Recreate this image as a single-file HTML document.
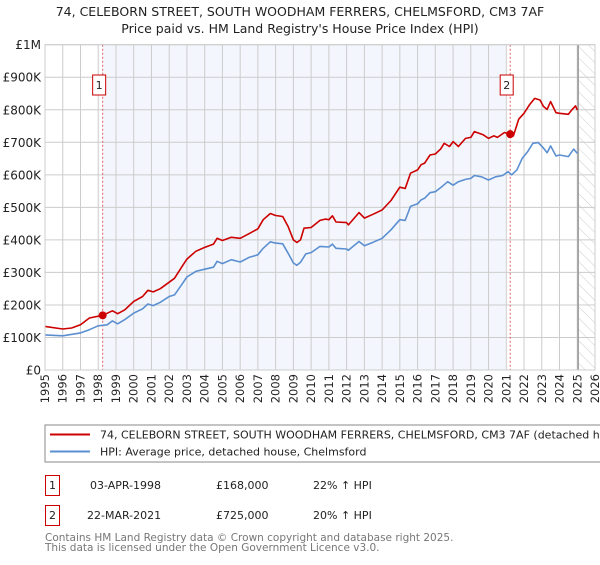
<!DOCTYPE html>
<html><head><meta charset="utf-8"><style>
body{margin:0;background:#fff;}
svg text{font-family:"DejaVu Sans","Liberation Sans",sans-serif;}
</style></head><body>
<svg id="chart" width="600" height="560" viewBox="0 0 600 560" xmlns="http://www.w3.org/2000/svg">
<defs>
<pattern id="hatch" width="8" height="8" patternUnits="userSpaceOnUse" patternTransform="rotate(-45)">
<line x1="0" y1="0" x2="0" y2="8" stroke="#ccc" stroke-width="1"/>
</pattern>
</defs>
<text x="300" y="16" text-anchor="middle" font-size="12.5" fill="#222">74, CELEBORN STREET, SOUTH WOODHAM FERRERS, CHELMSFORD, CM3 7AF</text>
<text x="300" y="33" text-anchor="middle" font-size="12.5" fill="#222">Price paid vs. HM Land Registry's House Price Index (HPI)</text>
<g id="plot"></g>
<g>
<rect x="45" y="425" width="580" height="37" fill="#fff" stroke="#888"/>
<line x1="50" y1="434.5" x2="90" y2="434.5" stroke="#cc0000" stroke-width="2"/>
<text x="100" y="438.5" font-size="11" fill="#222">74, CELEBORN STREET, SOUTH WOODHAM FERRERS, CHELMSFORD, CM3 7AF (detached house)</text>
<line x1="50" y1="451.5" x2="90" y2="451.5" stroke="#5b8fd0" stroke-width="2"/>
<text x="100" y="455.5" font-size="11" fill="#222">HPI: Average price, detached house, Chelmsford</text>
</g>
<g font-size="11" fill="#222">
<rect x="45.5" y="475.5" width="14" height="20" fill="#fff" stroke="#cc0000"/>
<text x="52.5" y="489" text-anchor="middle">1</text>
<text x="90" y="489">03-APR-1998</text>
<text x="216" y="489">£168,000</text>
<text x="313" y="489">22% ↑ HPI</text>
<rect x="45.5" y="505.5" width="14" height="20" fill="#fff" stroke="#cc0000"/>
<text x="52.5" y="519" text-anchor="middle">2</text>
<text x="87" y="519">22-MAR-2021</text>
<text x="216" y="519">£725,000</text>
<text x="313" y="519">20% ↑ HPI</text>
</g>
<text x="45" y="541" font-size="10.5" fill="#777">Contains HM Land Registry data © Crown copyright and database right 2025.</text>
<text x="45" y="551" font-size="10.5" fill="#777">This data is licensed under the Open Government Licence v3.0.</text>
</svg>
<script>
const years=[1995,1996,1997,1998,1999,2000,2001,2002,2003,2004,2005,2006,2007,2008,2009,2010,2011,2012,2013,2014,2015,2016,2017,2018,2019,2020,2021,2022,2023,2024,2025,2026];
const yTicks=[0,100000,200000,300000,400000,500000,600000,700000,800000,900000,1000000];
const yTickLabels=["£0","£100K","£200K","£300K","£400K","£500K","£600K","£700K","£800K","£900K","£1M"];
const propT=[1995,1996,1996.5,1997,1997.5,1998.25,1998.8,1999.1,1999.5,2000,2000.5,2000.8,2001.1,2001.5,2002,2002.3,2002.7,2003,2003.5,2004,2004.5,2004.7,2005,2005.5,2006,2006.5,2007,2007.3,2007.7,2008,2008.4,2008.7,2009,2009.2,2009.4,2009.6,2010,2010.5,2010.8,2011,2011.2,2011.4,2012,2012.1,2012.7,2013,2013.5,2014,2014.5,2015,2015.3,2015.6,2016,2016.2,2016.4,2016.7,2017,2017.3,2017.5,2017.8,2018,2018.3,2018.7,2019,2019.2,2019.7,2020,2020.3,2020.5,2020.9,2021.22,2021.4,2021.7,2022,2022.3,2022.6,2022.9,2023.1,2023.3,2023.5,2023.8,2024,2024.5,2024.7,2024.9,2025];
const propV=[134,126,129,139,160,168,182,173,185,211,226,245,240,250,270,282,316,341,365,377,387,405,398,408,405,419,434,462,481,475,472,441,400,392,400,436,438,460,464,462,474,455,453,446,484,467,479,492,521,562,558,605,615,631,636,661,664,679,697,687,702,687,712,715,733,723,712,720,715,730,725,720,771,789,815,835,830,810,801,825,791,789,786,800,812,799];
const hpiT=[1995,1996,1997,1997.5,1998,1998.5,1998.8,1999.1,1999.5,2000,2000.5,2000.8,2001.1,2001.5,2002,2002.3,2002.7,2003,2003.5,2004,2004.5,2004.7,2005,2005.5,2006,2006.5,2007,2007.3,2007.7,2008,2008.4,2008.7,2009,2009.2,2009.4,2009.7,2010,2010.5,2011,2011.2,2011.4,2012,2012.1,2012.7,2013,2013.5,2014,2014.5,2015,2015.3,2015.6,2016,2016.2,2016.4,2016.7,2017,2017.4,2017.7,2018,2018.3,2018.7,2019,2019.2,2019.6,2020,2020.4,2020.8,2021.1,2021.3,2021.6,2021.9,2022.2,2022.5,2022.8,2023.1,2023.3,2023.5,2023.8,2024,2024.5,2024.8,2025];
const hpiV=[108,105,114,124,136,139,151,142,155,175,188,203,198,208,226,231,262,286,303,310,316,334,327,339,332,346,354,374,394,390,388,359,329,322,331,357,361,380,378,387,374,372,368,395,382,393,405,431,462,460,503,511,523,528,545,548,565,579,568,579,586,589,598,594,584,594,598,610,600,615,651,671,697,699,682,668,689,658,661,656,679,666];
const saleT=[1998.25,2021.22];
const saleV=[168000,725000];
const saleLabels=["1","2"];

const X0=45,X1=595,Y0=370,Y1=44.7;
const xs=t=>X0+(t-1995)/(2026-1995)*(X1-X0);
const ys=v=>Y0-v/1000000*(Y0-Y1);
const NS="http://www.w3.org/2000/svg";
const g=document.getElementById('plot');
function mk(tag,attrs){const e=document.createElementNS(NS,tag);for(const k in attrs)e.setAttribute(k,attrs[k]);g.appendChild(e);return e;}
let r=mk('rect',{x:xs(saleT[0]),y:Y1,width:xs(2020.95)-xs(saleT[0]),height:Y0-Y1,fill:'#f3f6fd'});


let h=mk('rect',{x:xs(2025.05),y:Y1,width:X1-xs(2025.05),height:Y0-Y1,fill:'url(#hatch)'});


years.forEach(y=>{
 let l=mk('line',{x1:xs(y),x2:xs(y),y1:Y1,y2:Y0,stroke:'#ccc','stroke-width':1});
 
 
 let t=mk('text',{x:0,y:0,'font-size':11.5,fill:'#222','text-anchor':'end',transform:`translate(${xs(y)+4},${Y0+4}) rotate(-90)`});
 t.textContent=y;
 
 
});
yTicks.forEach((v,i)=>{
 let l=mk('line',{x1:X0,x2:X1,y1:ys(v),y2:ys(v),stroke:'#ccc','stroke-width':1});
 
 
 let t=mk('text',{x:X0-4,y:ys(v)+4.5,'font-size':12,fill:'#222','text-anchor':'end'});
 t.textContent=yTickLabels[i];
 
 
});
let vl=mk('line',{x1:xs(2025.05),x2:xs(2025.05),y1:Y1,y2:Y0,stroke:'#999','stroke-width':1.5});


saleT.forEach((t,i)=>{
 let l=mk('line',{x1:xs(t),x2:xs(t),y1:Y1,y2:Y0,stroke:'#e06060','stroke-width':1,'stroke-dasharray':'2,2'});
 
 
});
function path(T,V,color,name){
 const d=T.map((t,i)=>(i?'L':'M')+xs(t).toFixed(1)+','+ys(V[i]*1000).toFixed(1)).join('');
 let p=mk('path',{d:d,fill:'none',stroke:color,'stroke-width':1.6,'stroke-linejoin':'round'});
 
 
}
path(hpiT,hpiV,'#5b8fd0','hpi-line');
path(propT,propV,'#cc0000','property-price-line');
saleT.forEach((t,i)=>{
 let c=mk('circle',{cx:xs(t),cy:ys(saleV[i]),r:4,fill:'#cc0000'});
 
 
 let b=mk('rect',{x:xs(t)-10,y:75,width:13,height:20,fill:'#fff',stroke:'#cc0000'});
 
 
 let tx=mk('text',{x:xs(t)-3.5,y:89,'font-size':11,fill:'#222','text-anchor':'middle'});
 tx.textContent=saleLabels[i];
 
 
});
let bd=mk('rect',{x:X0,y:Y1,width:X1-X0,height:Y0-Y1,fill:'none',stroke:'#ccc'});


</script>
</body></html>
